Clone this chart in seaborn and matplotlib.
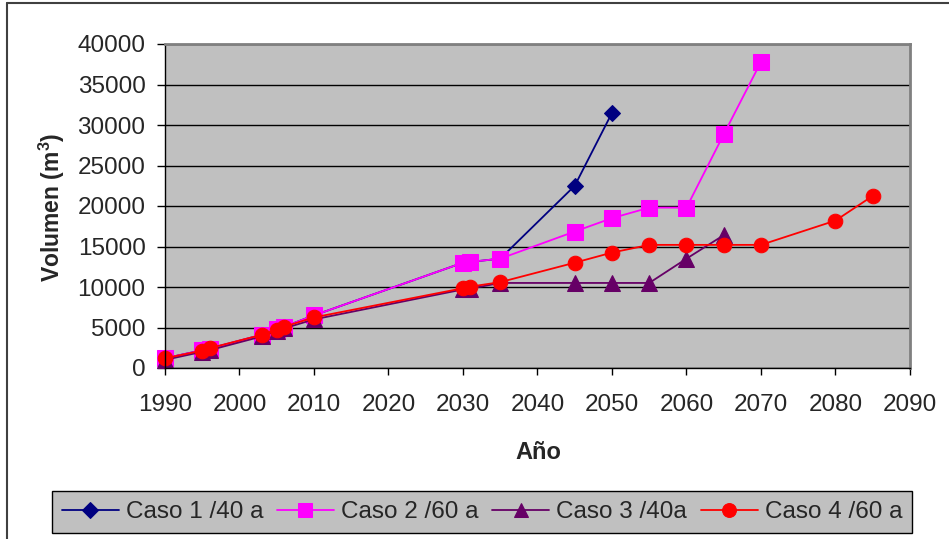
import matplotlib
matplotlib.use("Agg")
import matplotlib.pyplot as plt
from matplotlib.lines import Line2D
import pandas as pd
import seaborn as sns

# valores (volumen en m3 por año)
anio_c1 = [1990, 1995, 1996, 2003, 2005, 2006, 2010, 2030, 2031, 2035, 2045, 2050]
vol_c1 = [1200, 2200, 2400, 4100, 4800, 5100, 6500, 13000, 13100, 13500, 22500, 31500]

anio_c2 = [1990, 1995, 1996, 2003, 2005, 2006, 2010, 2030, 2031, 2035, 2045, 2050,
           2055, 2060, 2065, 2070]
vol_c2 = [1200, 2200, 2400, 4100, 4800, 5100, 6500, 13000, 13100, 13500, 16850, 18500,
          19800, 19800, 28850, 37800]

anio_c3 = [1990, 1995, 1996, 2003, 2005, 2006, 2010, 2030, 2031, 2035, 2045, 2050,
           2055, 2060, 2065]
vol_c3 = [1000, 2000, 2200, 3900, 4600, 4900, 6000, 9700, 9800, 10500, 10500, 10500,
          10500, 13500, 16400]

anio_c4 = [1990, 1995, 1996, 2003, 2005, 2006, 2010, 2030, 2031, 2035, 2045, 2050,
           2055, 2060, 2065, 2070, 2080, 2085]
vol_c4 = [1200, 2150, 2450, 4100, 4750, 5100, 6250, 9850, 10050, 10600, 13000, 14250,
          15200, 15200, 15200, 15200, 18200, 21250]

casos = ["Caso 1 /40 a", "Caso 2 /60 a", "Caso 3 /40a", "Caso 4 /60 a"]
colores = ["#000080", "#FF00FF", "#660066", "#FF0000"]
marcas = ["D", "s", "^", "o"]
tam_marca = [8.5, 11, 11, 10.5]

x_ticks = list(range(1990, 2091, 10))
y_ticks = list(range(0, 40001, 5000))

series = [(anio_c1, vol_c1), (anio_c2, vol_c2), (anio_c3, vol_c3), (anio_c4, vol_c4)]
df = pd.concat([pd.DataFrame({"Año": a, "Volumen": v, "Caso": c})
                for (a, v), c in zip(series, casos)], ignore_index=True)

sns.set_style("white", {"axes.facecolor": "#C0C0C0"})
plt.rcParams["font.family"] = ["Liberation Sans", "DejaVu Sans"]
plt.rcParams["mathtext.fontset"] = "custom"
plt.rcParams["mathtext.rm"] = "Liberation Sans"
plt.rcParams["mathtext.bf"] = "Liberation Sans:bold"

fig = plt.figure(figsize=(9.49, 5.39), dpi=100)
ax = fig.add_axes([165 / 949, 1 - 368 / 539, 745 / 949, 324 / 539])

for caso, col, mk, ms in zip(casos, colores, marcas, tam_marca):
    sub = df[df["Caso"] == caso]
    sns.lineplot(data=sub, x="Año", y="Volumen", ax=ax, color=col, marker=mk,
                 markersize=ms, markeredgecolor=col, linewidth=1.3, label=caso,
                 sort=False, estimator=None)

for ln in ax.lines:
    ln.set_clip_on(False)

ax.set_xlim(1990, 2090)
ax.set_ylim(0, 40000)
ax.set_xticks(x_ticks)
ax.set_yticks(y_ticks)
ax.set_axisbelow(True)
ax.yaxis.grid(True, color="black", linewidth=1)
ax.xaxis.grid(False)

for s in ["top", "right"]:
    ax.spines[s].set_color("#808080")
    ax.spines[s].set_linewidth(2)
for s in ["left", "bottom"]:
    ax.spines[s].set_color("black")
    ax.spines[s].set_linewidth(1)

ax.tick_params(direction="out", width=1, color="black", labelsize=17.5,
               left=True, bottom=True)
ax.tick_params(axis="y", length=6, pad=8)
ax.tick_params(axis="x", length=5, pad=14)

ax.set_xlabel("Año", fontsize=17, fontweight="bold", ha="center", va="center")
ax.set_ylabel(r"Volumen (m$^{\mathbf{3}}$)", fontsize=16.5, fontweight="bold",
              ha="center", va="center")
ax.xaxis.set_label_coords(0.5007, -0.26)
ax.yaxis.set_label_coords(-0.1517, 0.497)

handles, labels = ax.get_legend_handles_labels()
ax.legend(handles, labels, loc="center", ncol=4, bbox_to_anchor=(482 / 949, 1 - 512 / 539),
          bbox_transform=fig.transFigure, frameon=True, fancybox=False, framealpha=1,
          edgecolor="black", fontsize=17.5, markerscale=0.95, handlelength=2.35,
          handletextpad=0.3, columnspacing=0.55, borderpad=0.4, borderaxespad=0)
ax.get_legend().get_frame().set_linewidth(1)

# borde exterior del grafico
fig.add_artist(Line2D([7 / 949, 1], [1 - 3 / 539] * 2, transform=fig.transFigure,
                      color="#404040", linewidth=1.5))
fig.add_artist(Line2D([7 / 949] * 2, [0, 1 - 3 / 539], transform=fig.transFigure,
                      color="#404040", linewidth=1.5))

fig.savefig("out.png", dpi=100)
